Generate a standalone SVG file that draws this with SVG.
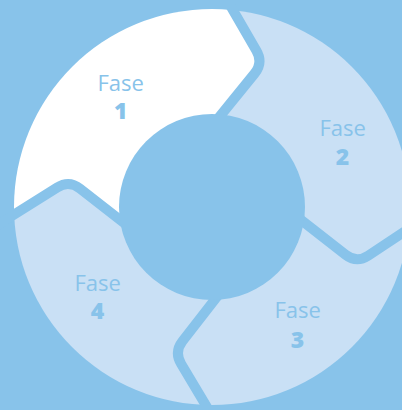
<svg xmlns="http://www.w3.org/2000/svg" width="402" height="410" viewBox="0 0 402 410">
  <defs>
    <clipPath id="ring">
      <circle cx="212" cy="207" r="198"/>
    </clipPath>
    <style>
      .bg { fill: #88C3EA; }
      .light { fill: #C9E0F5; }
      .white { fill: #FFFFFF; }
      .sep { fill: none; stroke: #88C3EA; stroke-width: 10; stroke-linejoin: round; stroke-linecap: butt; }
      .t1 { font-family: "Open Sans", "Noto Sans", "Liberation Sans", sans-serif; font-size: 22px; fill: #88C3EA; text-anchor: middle; }
      .t2 { font-family: "Open Sans", "Noto Sans", "Liberation Sans", sans-serif; font-size: 23px; font-weight: 800; fill: #88C3EA; text-anchor: middle; }
    </style>
  </defs>
  <rect class="bg" x="0" y="0" width="402" height="410"/>
  <g clip-path="url(#ring)">
    <g id="fase1">
      <path class="white" d="M215.8,-19.5 L225,-4 L256.3,50.5 Q263.4,62.6 254.6,73.5 L212.4,125.5 L212,207 L130,227.6 L80,188.6 Q69,180 57.2,187.5 L1.3,222.7 L-20,236 L-20,-20 Z"/>
    </g>
    <g id="fase2">
      <path class="light" d="M215.8,-19.5 L225,-4 L256.3,50.5 Q263.4,62.6 254.6,73.5 L212.4,125.5 L212,207 L291.5,212.5 L345.6,254.7 Q356.6,263.3 368.3,255.6 L420,221.4 L430,221.4 L430,-20 Z"/>
    </g>
    <g id="fase3">
      <path class="light" d="M420,221.4 L368.3,255.6 Q356.6,263.3 345.6,254.7 L291.5,212.5 L212,207 L224.2,287.5 L182.6,341 Q174,352 181.2,364 L214.4,419.6 L430,430 L430,221.4 Z"/>
    </g>
    <g id="fase4">
      <path class="light" d="M214.4,419.6 L181.2,364 Q174,352 182.6,341 L224.2,287.5 L212,207 L130,227.6 L80,188.6 Q69,180 57.2,187.5 L1.3,222.7 L-20,236 L-20,430 Z"/>
    </g>
  </g>
  <g id="connectors">
    <path class="sep" d="M215.8,-19.5 L256.3,50.5 Q263.4,62.6 254.6,73.5 L212.4,125.5"/>
    <path class="sep" d="M420,221.4 L368.3,255.6 Q356.6,263.3 345.6,254.7 L291.5,212.5"/>
    <path class="sep" d="M214.4,419.6 L181.2,364 Q174,352 182.6,341 L224.2,287.5"/>
    <path class="sep" d="M-20,236 L57.2,187.5 Q69,180 80,188.6 L130,227.6"/>
  </g>
  <g id="center">
    <circle class="bg" cx="212" cy="207" r="93"/>
  </g>
  <g id="labels">
    <text class="t1" x="120.7" y="90.7">Fase</text>
    <text class="t2" x="120.7" y="119">1</text>
    <text class="t1" x="342.7" y="136">Fase</text>
    <text class="t2" x="342.5" y="165">2</text>
    <text class="t1" x="297.7" y="318.3">Fase</text>
    <text class="t2" x="297.5" y="347.7">3</text>
    <text class="t1" x="97.7" y="290.7">Fase</text>
    <text class="t2" x="97.5" y="319">4</text>
  </g>
</svg>
